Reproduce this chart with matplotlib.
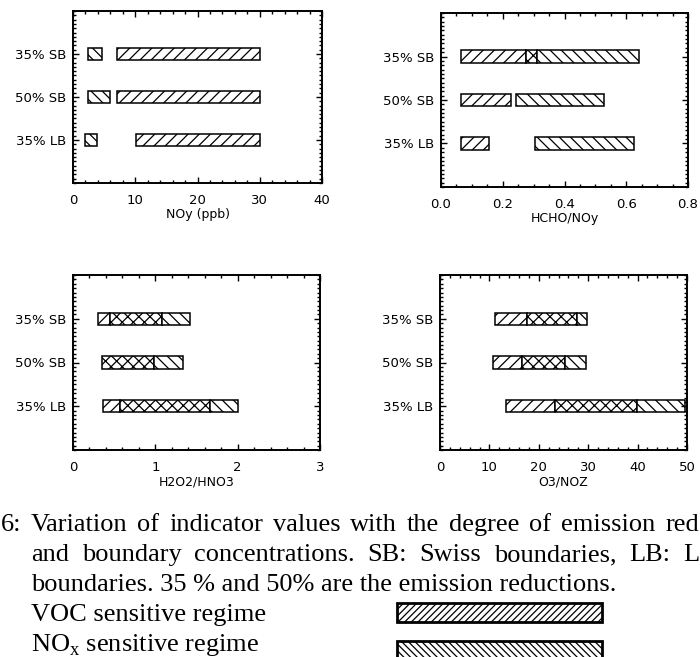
import matplotlib
matplotlib.use("Agg")
import matplotlib.pyplot as plt
from matplotlib.patches import Rectangle
from matplotlib.ticker import MultipleLocator

plt.rcParams['font.family'] = ['DejaVu Sans']
plt.rcParams['mathtext.fontset'] = 'custom'
plt.rcParams['mathtext.rm'] = 'Liberation Serif'
plt.rcParams['hatch.linewidth'] = 0.9

# scenarios, bottom to top
scenarios = ['35% LB', '50% SB', '35% SB']

# NOy (ppb)
noy_voc = [(10.2, 30.0), (7.0, 30.0), (7.0, 30.0)]
noy_nox = [(1.9, 3.8), (2.4, 5.9), (2.4, 4.6)]

# HCHO/NOy
hcho_voc = [(0.066, 0.155), (0.066, 0.226), (0.066, 0.31)]
hcho_nox = [(0.305, 0.626), (0.242, 0.528), (0.275, 0.642)]

# H2O2/HNO3
h2o2_voc = [(0.37, 1.67), (0.35, 0.98), (0.30, 1.08)]
h2o2_nox = [(0.57, 2.0), (0.35, 1.33), (0.45, 1.42)]

# O3/NOZ
o3_voc = [(13.4, 39.9), (10.7, 25.3), (11.1, 27.7)]
o3_nox = [(23.3, 49.5), (16.6, 29.5), (17.6, 29.7)]

caption = [
    'Variation of indicator values with the degree of emission red',
    'and boundary concentrations. SB: Swiss boundaries, LB: L',
    'boundaries. 35 % and 50% are the emission reductions.',
    'VOC sensitive regime',
    r'NO$_\mathrm{x}$ sensitive regime',
]

W, H = 700, 657


def rect(l, t, r, b):
    # pixel box -> figure fraction
    return [l / W, 1 - b / H, (r - l) / W, (b - t) / H]


def draw_panel(ax, voc, nox, xmax, xmajor, xminor, xlabel, fmt):
    for i, (v, n) in enumerate(zip(voc, nox)):
        y = i + 1
        pts = sorted(set([v[0], v[1], n[0], n[1]]))
        for a, b in zip(pts[:-1], pts[1:]):
            mid = (a + b) / 2
            in_v = v[0] <= mid <= v[1]
            in_n = n[0] <= mid <= n[1]
            if in_v and in_n:
                hatch = 'xxx'
            elif in_v:
                hatch = '///'
            elif in_n:
                hatch = '\\\\\\'
            else:
                continue
            ax.barh(y, b - a, left=a, height=0.28, color='white',
                    edgecolor='black', linewidth=1.1, hatch=hatch)
    ax.set_xlim(0, xmax)
    ax.set_ylim(0, 4)
    ax.set_yticks([1, 2, 3])
    ax.set_yticklabels(scenarios)
    ax.xaxis.set_major_locator(MultipleLocator(xmajor))
    ax.xaxis.set_minor_locator(MultipleLocator(xminor))
    ax.yaxis.set_minor_locator(MultipleLocator(0.1))
    ax.xaxis.set_major_formatter(fmt)
    ax.tick_params(which='both', direction='in', top=True, right=True,
                   labelsize=9.5, width=1)
    ax.tick_params(which='major', length=4)
    ax.tick_params(which='minor', length=2)
    ax.tick_params(axis='x', pad=8)
    ax.tick_params(axis='y', pad=5)
    ax.set_xlabel(xlabel, fontsize=9, labelpad=1)
    for s in ax.spines.values():
        s.set_linewidth(1.4)


fig = plt.figure(figsize=(7, 6.57), dpi=100)

ax1 = fig.add_axes(rect(73, 11, 322, 183))
draw_panel(ax1, noy_voc, noy_nox, 40, 10, 2, 'NOy (ppb)', '{x:.0f}')

ax2 = fig.add_axes(rect(441, 13, 688, 187))
draw_panel(ax2, hcho_voc, hcho_nox, 0.8, 0.2, 0.05, 'HCHO/NOy', '{x:.1f}')

ax3 = fig.add_axes(rect(73, 275, 320, 450))
draw_panel(ax3, h2o2_voc, h2o2_nox, 3, 1, 0.2, 'H2O2/HNO3', '{x:.0f}')

ax4 = fig.add_axes(rect(440, 275, 687, 450))
draw_panel(ax4, o3_voc, o3_nox, 50, 10, 2, 'O3/NOZ', '{x:.0f}')

# caption
cap = dict(fontsize=19, family='Liberation Serif', va='baseline', ha='left')
renderer = fig.canvas.get_renderer()


def justified(line, x0, x1, ybase):
    # lay words out so the line runs from x0 to x1 (pixels)
    words = line.split(' ')
    texts = [fig.text(0, 1 - ybase / H, w, **cap) for w in words]
    widths = [t.get_window_extent(renderer).width for t in texts]
    gap = (x1 - x0 - sum(widths)) / (len(words) - 1)
    x = x0
    for t, w in zip(texts, widths):
        t.set_x(x / W)
        x += w + gap


fig.text(1 / W, 1 - 531 / H, '6:', **cap)
justified(caption[0], 31, 699, 531)
justified(caption[1], 31, 699, 561)
fig.text(31 / W, 1 - 591 / H, caption[2], **cap)
fig.text(31 / W, 1 - 621 / H, caption[3], **cap)
fig.text(31 / W, 1 - 651 / H, caption[4], **cap)

# legend swatches
fig.patches.append(Rectangle((397 / W, 1 - 622 / H), 205 / W, 19 / H,
                             transform=fig.transFigure, facecolor='white',
                             edgecolor='black', linewidth=2, hatch='/////'))
fig.patches.append(Rectangle((397 / W, 1 - 660 / H), 205 / W, 19 / H,
                             transform=fig.transFigure, facecolor='white',
                             edgecolor='black', linewidth=2,
                             hatch='\\\\\\\\\\'))

fig.savefig('out.png', dpi=100)
